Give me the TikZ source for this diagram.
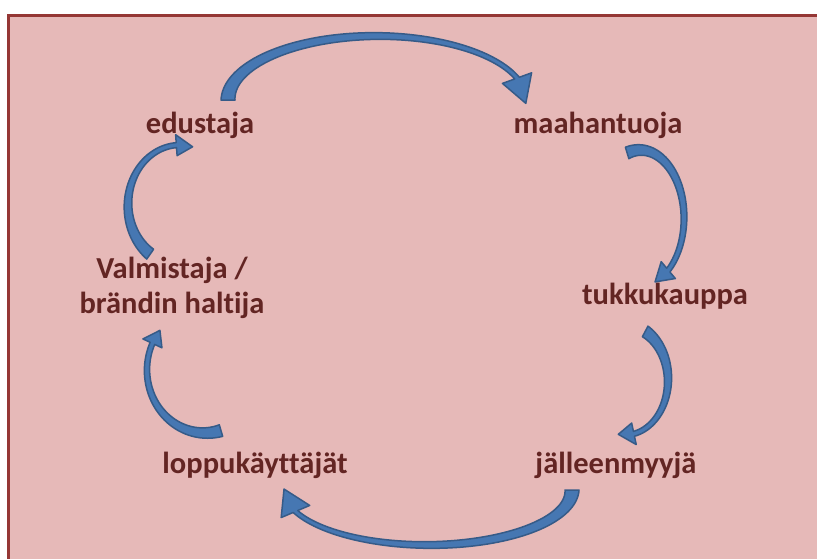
\documentclass[tikz,border=0pt]{standalone}
\usepackage{fontspec}
\setmainfont{Carlito}[Ligatures={NoCommon}]
\definecolor{panelfill}{HTML}{E6B9B8}
\definecolor{panelline}{HTML}{953735}
\definecolor{labeltext}{HTML}{632523}
\definecolor{arrowfill}{HTML}{4677B2}
\definecolor{arrowline}{HTML}{365B88}
\tikzset{
  stage/.style={font=\fontsize{30.5}{35}\selectfont\bfseries, text=labeltext,
    inner sep=0pt, align=center, anchor=base},
  arrowbody/.style={fill=arrowfill, draw=arrowline, line width=1.5pt, line join=round},
}
% Curved block arrow along the ellipse centred at (#1,#2) with radii #3,#4:
% body from angle #5 to #6, tip at angle #7, body width tapering #8 -> #9,
% head width taken from \bkhead.
\newcommand{\bkwidth}{(\bkwb+(\bkwa-\bkwb)*(1-(\t-(\bkA))/(\bkB-(\bkA)))^2)}
\newcommand{\blockarc}[9]{%
  \def\bkcx{#1}\def\bkcy{#2}\def\bkrx{#3}\def\bkry{#4}%
  \def\bkA{#5}\def\bkB{#6}\def\bkC{#7}\def\bkwa{#8}\def\bkwb{#9}%
  \filldraw[arrowbody]
    plot[domain=\bkA:\bkB, samples=70, variable=\t, smooth]
      ({\bkcx+(\bkrx+0.5*\bkwidth)*cos(\t)},
       {\bkcy+(\bkry+0.5*\bkwidth)*sin(\t)})
    -- ({\bkcx+(\bkrx+0.5*\bkhead)*cos(\bkB)},{\bkcy+(\bkry+0.5*\bkhead)*sin(\bkB)})
    -- ({\bkcx+\bkrx*cos(\bkC)},{\bkcy+\bkry*sin(\bkC)})
    -- ({\bkcx+(\bkrx-0.5*\bkhead)*cos(\bkB)},{\bkcy+(\bkry-0.5*\bkhead)*sin(\bkB)})
    -- plot[domain=\bkB:\bkA, samples=70, variable=\t, smooth]
      ({\bkcx+(\bkrx-0.5*\bkwidth)*cos(\t)},
       {\bkcy+(\bkry-0.5*\bkwidth)*sin(\t)})
    -- cycle;
}
\begin{document}
\begin{tikzpicture}[x=1pt, y=-1pt]
  \useasboundingbox (0,0) rectangle (817,558);
  \fill[white] (0,0) rectangle (817,558);
  % panel
  \filldraw[fill=panelfill, draw=panelline, line width=3pt] (8.5,15.5) rectangle (840,580);

  % stages of the chain
  \node[stage] (edustaja) at (200,133) {edustaja};
  \node[stage] (maahantuoja) at (598,133) {maahantuoja};
  \node[stage] (tukku) at (665,304) {tukkukauppa};
  \node[stage] (jalleen) at (616,473) {jälleenmyyjä};
  \node[stage] (loppu) at (255,473) {loppukäyttäjät};
  \node[stage] (valmistaja) at (172,313) {Valmistaja /\\brändin haltija};

  % curved arrows between the stages
  \def\bkhead{31}
  \blockarc{377}{100}{149}{64}{-180}{-20}{3}{14}{5}
  \def\bkhead{22}
  \blockarc{640}{218}{44}{68}{-107}{50}{70}{12}{5}
  \blockarc{625}{380}{43}{55}{-62}{78}{99}{12}{5}
  \def\bkhead{31}
  \blockarc{428}{490}{144}{55}{0}{157}{181}{14}{5}
  \def\bkhead{21}
  \blockarc{205}{370}{58}{63}{74}{205}{219}{12}{5}
  \blockarc{180}{205}{52}{60}{125}{266}{284}{12}{5}
\end{tikzpicture}
\end{document}
